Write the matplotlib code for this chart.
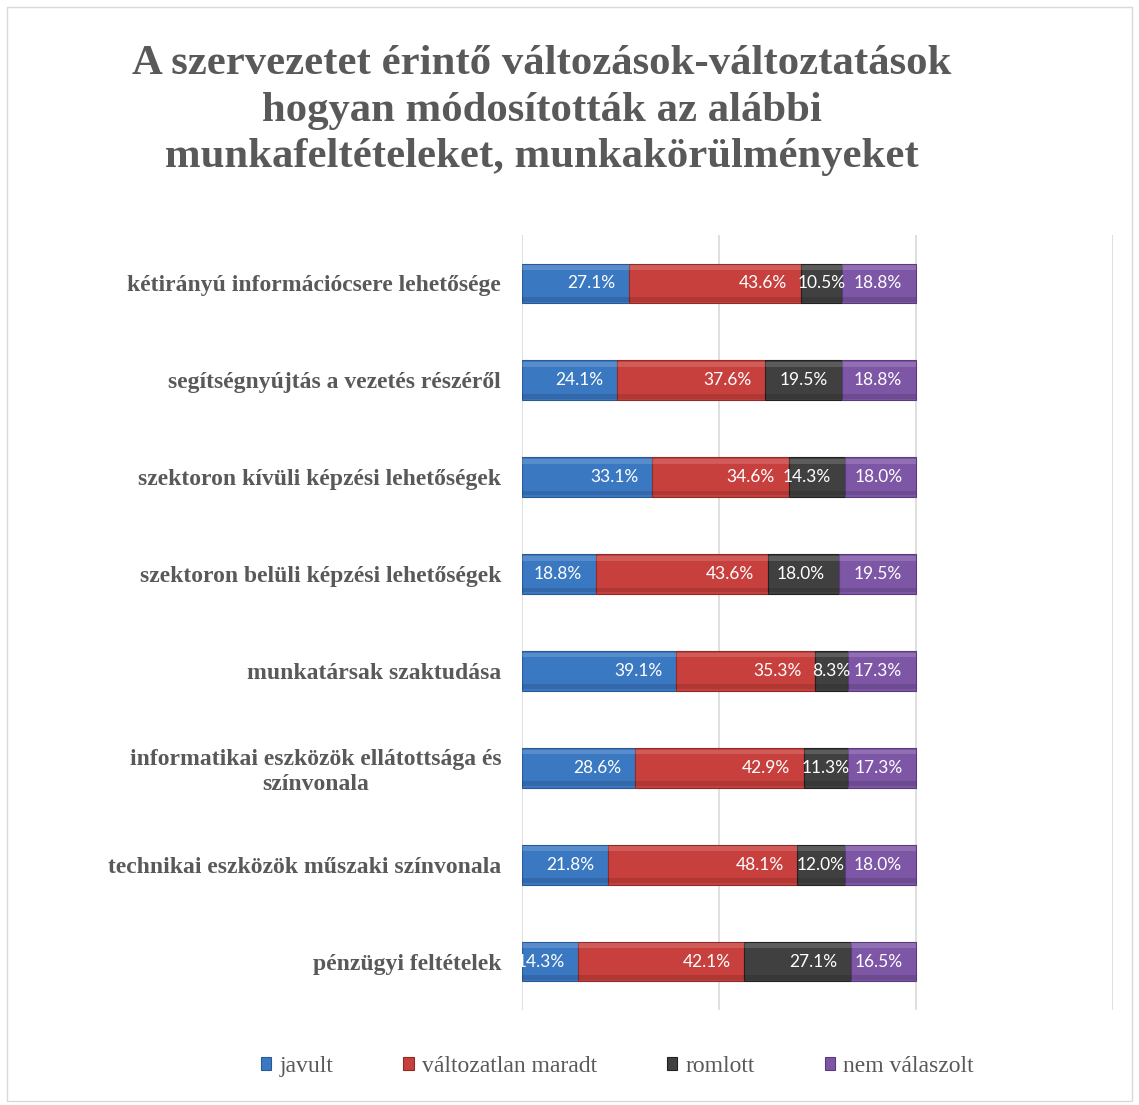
import numpy as np
import matplotlib.pyplot as plt
from matplotlib.patches import Rectangle

# data (top to bottom in the picture)
categories = [
    "kétirányú információcsere lehetősége",
    "segítségnyújtás a vezetés részéről",
    "szektoron kívüli képzési lehetőségek",
    "szektoron belüli képzési lehetőségek",
    "munkatársak szaktudása",
    "informatikai eszközök ellátottsága és\nszínvonala",
    "technikai eszközök műszaki színvonala",
    "pénzügyi feltételek",
]
javult = [27.1, 24.1, 33.1, 18.8, 39.1, 28.6, 21.8, 14.3]
valtozatlan = [43.6, 37.6, 34.6, 43.6, 35.3, 42.9, 48.1, 42.1]
romlott = [10.5, 19.5, 14.3, 18.0, 8.3, 11.3, 12.0, 27.1]
nem_valaszolt = [18.8, 18.8, 18.0, 19.5, 17.3, 17.3, 18.0, 16.5]

series_names = ["javult", "változatlan maradt", "romlott", "nem válaszolt"]
series_vals = [javult, valtozatlan, romlott, nem_valaszolt]
colors = ["#3b78c2", "#c8403d", "#404040", "#7d56a6"]
edges = ["#2a5a96", "#8f2b29", "#222222", "#5a3c7c"]

title = ("A szervezetet érintő változások-változtatások\n"
         "hogyan módosították az alábbi\n"
         "munkafeltételeket, munkakörülményeket")

fig = plt.figure(figsize=(11.39, 11.05), dpi=100)
fig.patches.append(Rectangle((0.006, 0.004), 0.988, 0.99, transform=fig.transFigure,
                             fill=False, edgecolor="#d9d9d9", linewidth=1.0))
ax = fig.add_axes([0.4583, 0.086, 0.519, 0.7013])

n = len(categories)
y = np.arange(n)[::-1]
h = 0.41

left = np.zeros(n)
handles = []
for name, vals, col, ec in zip(series_names, series_vals, colors, edges):
    vals = np.array(vals)
    b = ax.barh(y, vals, left=left, height=h, color=col, edgecolor=ec,
                linewidth=0.8, zorder=3, label=name)
    # bevel look: light band on top, dark band at bottom
    ax.barh(y + h * 0.40, vals, left=left, height=h * 0.12, color="white",
            alpha=0.15, linewidth=0, zorder=4)
    ax.barh(y - h * 0.40, vals, left=left, height=h * 0.12, color="black",
            alpha=0.12, linewidth=0, zorder=4)
    handles.append(b)
    for yi, l, v in zip(y, left, vals):
        if v < 13:
            ax.text(l + v / 2, yi, f"{v:.1f}%", ha="center", va="center",
                    color="white", fontsize=12.5, family="Lato", zorder=6, clip_on=True)
        else:
            ax.text(l + v - 3.5, yi, f"{v:.1f}%", ha="right", va="center",
                    color="white", fontsize=12.5, family="Lato", zorder=6, clip_on=True)
    left = left + vals

ax.set_xlim(0, 150)
ax.set_ylim(-0.5, n - 0.5)
ax.set_xticks([0, 50, 100, 150])
ax.xaxis.grid(True, color="#d9d9d9", linewidth=1.2, zorder=0)
ax.tick_params(axis="x", length=0, labelbottom=False)
ax.set_yticks(y)
ax.set_yticklabels(categories, family="Liberation Serif", fontweight="bold",
                   fontsize=17, color="#595959")
for lab in ax.get_yticklabels():
    lab.set_multialignment("center")
    lab.set_linespacing(1.25)
ax.tick_params(axis="y", length=0, pad=15)
for s in ax.spines.values():
    s.set_visible(False)

fig.text(0.476, 0.959, title, ha="center", va="top", family="Liberation Serif",
         fontweight="bold", fontsize=30.8, color="#595959", linespacing=1.29)

leg = fig.legend(handles=handles, labels=series_names, loc="center",
                 bbox_to_anchor=(0.542, 0.035), ncol=4, frameon=False,
                 prop={"family": "Liberation Serif", "size": 17},
                 handlelength=0.45, handleheight=0.45, handletextpad=0.35,
                 columnspacing=2.95)
for t in leg.get_texts():
    t.set_color("#595959")

fig.savefig("out.png", dpi=100)
